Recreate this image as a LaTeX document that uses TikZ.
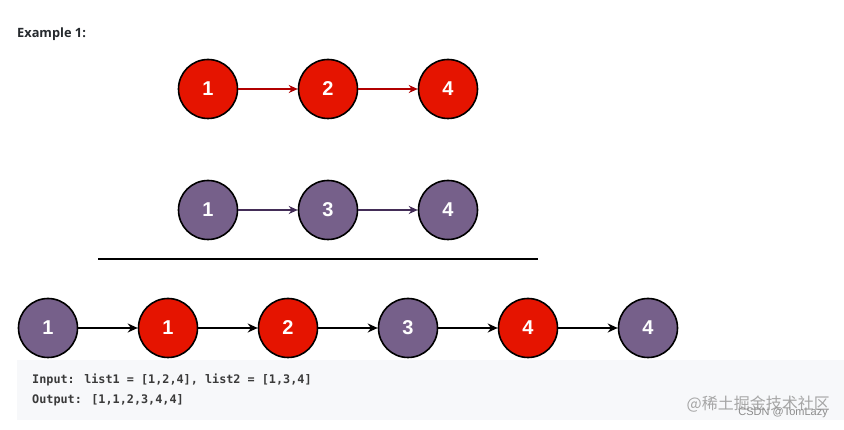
\documentclass[tikz,border=0pt]{standalone}
\usepackage{fontspec}
\setmainfont{Liberation Sans}
\newfontfamily\exfont{Open Sans}
\newfontfamily\codefont{DejaVu Sans Mono}
\newfontfamily\cjkfont{Noto Sans CJK SC}
\usetikzlibrary{arrows.meta}
\definecolor{nred}{HTML}{E51400}
\definecolor{npurple}{HTML}{76608A}
\definecolor{ared}{HTML}{B20000}
\definecolor{apurple}{HTML}{432D57}
\definecolor{codebg}{HTML}{F7F8FA}
\definecolor{codetext}{HTML}{3A3A3A}
\definecolor{extext}{HTML}{262A2E}
\begin{document}
\begin{tikzpicture}[x=1pt,y=-1pt,
  listnode/.style={circle,draw=black,line width=1.6pt,minimum size=59pt,inner sep=0pt,
    text=white,font=\bfseries\fontsize{20}{20}\selectfont},
  rednode/.style={listnode,fill=nred},
  purplenode/.style={listnode,fill=npurple},
  redarrow/.style={draw=ared,line width=1.3pt,-{Stealth[length=9pt,width=8pt]}},
  purplearrow/.style={draw=apurple,line width=1.3pt,-{Stealth[length=9pt,width=8pt]}},
  blackarrow/.style={draw=black,line width=1.8pt,-{Stealth[length=10pt,width=9pt]}},
  codeline/.style={anchor=west,inner sep=0pt,font=\codefont\bfseries\fontsize{11.8}{12}\selectfont,text=codetext}]
\useasboundingbox (0,0) rectangle (844,430);
\fill[white] (0,0) rectangle (844,430);
\node[anchor=west,font=\exfont\bfseries\fontsize{12.8}{12.8}\selectfont,text=extext,inner sep=0pt] (title) at (17,34) {Example 1:};
% list 1
\node[rednode] (a1) at (208,89) {1};
\node[rednode] (a2) at (328,89) {2};
\node[rednode] (a3) at (448,89) {4};
\draw[redarrow] (a1) -- (a2);
\draw[redarrow] (a2) -- (a3);
% list 2
\node[purplenode] (b1) at (208,210) {1};
\node[purplenode] (b2) at (328,210) {3};
\node[purplenode] (b3) at (448,210) {4};
\draw[purplearrow] (b1) -- (b2);
\draw[purplearrow] (b2) -- (b3);
% separator
\coordinate (s1) at (98,259);
\coordinate (s2) at (538,259);
\draw[line width=1.8pt] (s1) -- (s2);
% code block background
\fill[codebg] (17,360) rectangle (844,420);
% merged list
\node[purplenode] (c1) at (48,328) {1};
\node[rednode] (c2) at (168,328) {1};
\node[rednode] (c3) at (288,328) {2};
\node[purplenode] (c4) at (408,328) {3};
\node[rednode] (c5) at (528,328) {4};
\node[purplenode] (c6) at (648,328) {4};
\draw[blackarrow] (c1) -- (c2);
\draw[blackarrow] (c2) -- (c3);
\draw[blackarrow] (c3) -- (c4);
\draw[blackarrow] (c4) -- (c5);
\draw[blackarrow] (c5) -- (c6);
% code text
\node[codeline] (in) at (32,380) {Input: list1 = [1,2,4], list2 = [1,3,4]};
\node[codeline] (out) at (32,400) {Output: [1,1,2,3,4,4]};
% watermark
\node[anchor=east,inner sep=0pt,font=\cjkfont\fontsize{16}{16}\selectfont,text=black!35] (wm1) at (830,404) {@稀土掘金技术社区};
\node[anchor=east,inner sep=0pt,font=\fontsize{11}{11}\selectfont,text=black!45] (wm2) at (828,413) {CSDN @TomLazy};
\end{tikzpicture}
\end{document}
